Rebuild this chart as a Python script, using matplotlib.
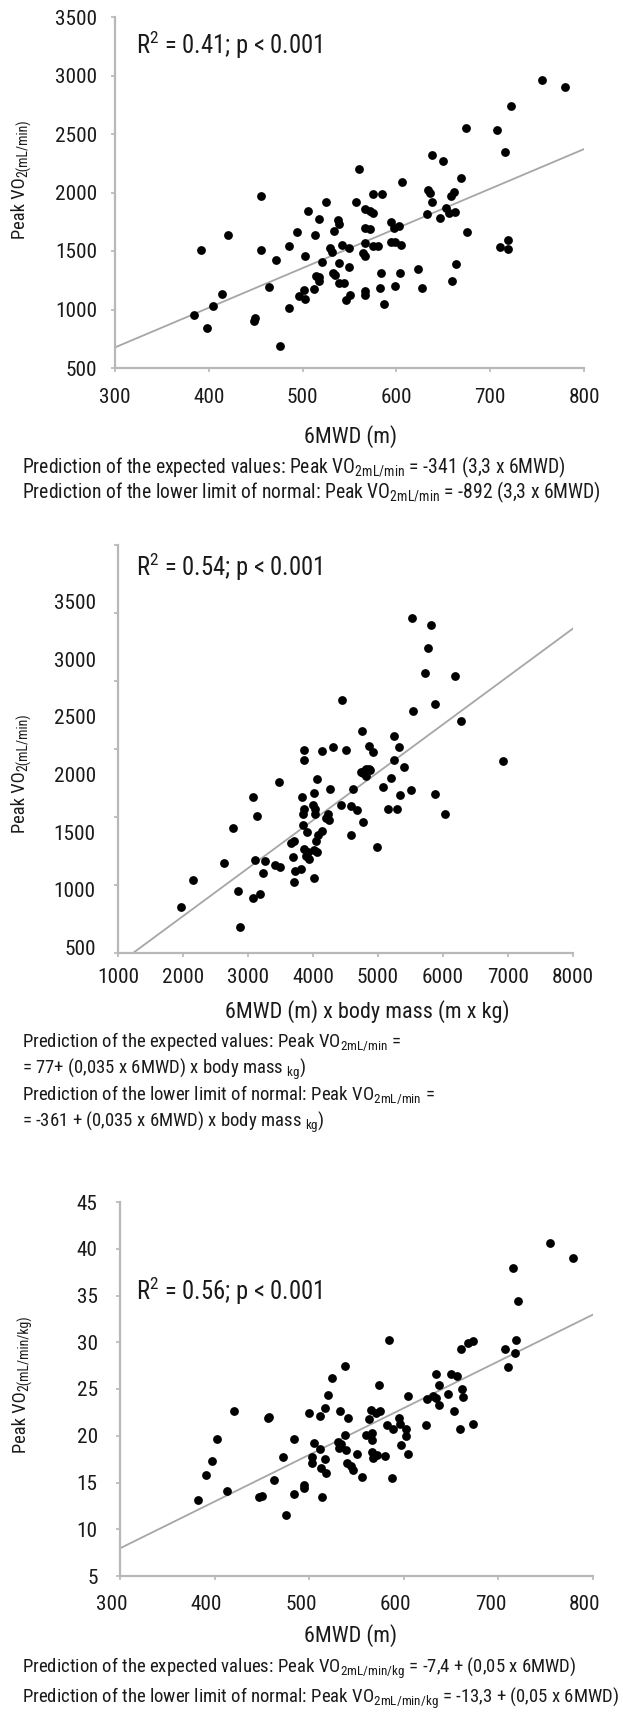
import numpy as np
import matplotlib
matplotlib.use("Agg")
import matplotlib.pyplot as plt
import matplotlib.transforms as mtransforms
from matplotlib import font_manager

# ---- fonts: prefer a narrow sans, the reference uses a condensed face ----
ttf = font_manager.fontManager.ttflist
names = {f.name for f in ttf}
main_font, stretch = "Liberation Sans", "normal"
for cand in ["Roboto Condensed", "Liberation Sans Narrow", "DejaVu Sans Condensed"]:
    if cand in names:
        main_font = cand
        break
else:
    if any(f.name == "DejaVu Sans" and f.stretch == "condensed" for f in ttf):
        main_font, stretch = "DejaVu Sans", "condensed"
plt.rcParams["font.family"] = [main_font, "DejaVu Sans"]
plt.rcParams["font.stretch"] = stretch
plt.rcParams["mathtext.default"] = "regular"

# ---- data: panel 1 (6MWD vs peak VO2, mL/min) ----
p1_mwd = [384, 392, 398, 404, 414, 421, 448, 449, 456, 456, 464, 472, 476, 486, 486,
          494, 496, 501, 503, 503, 506, 512, 513, 514, 518, 518, 518, 521, 525, 529,
          531, 533, 532, 535, 538, 539, 539, 539, 544, 542, 546, 549, 549, 551, 557,
          560, 564, 566, 566, 567, 566, 566, 572, 567, 572, 575, 575, 575, 580, 582,
          585, 584, 587, 594, 597, 594, 599, 598, 603, 604, 605, 606, 623, 627, 633,
          634, 636, 638, 638, 650, 647, 653, 656, 658, 661, 662, 659, 664, 669, 674,
          675, 707, 710, 716, 719, 719, 722, 755, 780]
p1_vo2 = [955, 1510, 840, 1030, 1135, 1640, 905, 930, 1970, 1505, 1195, 1425, 685, 1010, 1545,
          1665, 1115, 1165, 1090, 1460, 1840, 1175, 1640, 1290, 1275, 1240, 1770, 1410, 1915, 1525,
          1490, 1670, 1315, 1295, 1765, 1730, 1395, 1225, 1230, 1550, 1085, 1360, 1525, 1125, 1915,
          2200, 1480, 1460, 1160, 1120, 1570, 1700, 1685, 1855, 1845, 1825, 1990, 1540, 1545, 1180,
          1990, 1315, 1050, 1750, 1695, 1580, 1580, 1205, 1715, 1315, 1550, 2090, 1350, 1180, 1815,
          2020, 2000, 2320, 1915, 2270, 1785, 1865, 1825, 1970, 2005, 1830, 1245, 1385, 2120, 2555,
          1665, 2535, 1530, 2345, 1595, 1515, 2740, 2960, 2905]
p1_fit = (-341, 3.39)

# ---- data: panel 2 (6MWD x body mass vs peak VO2, mL/min) ----
p2_work = [1965, 2150, 2625, 2765, 2840, 2880, 3070, 3075, 3105, 3140, 3185, 3230, 3265, 3415,
           3490, 3480, 3665, 3705, 3690, 3700, 3720, 3810, 3830, 3840, 3860, 3860, 3865, 3840,
           3860, 3890, 3920, 3900, 3940, 4010, 4000, 4025, 4025, 4010, 4060, 4010, 4040, 4075,
           4055, 4135, 4145, 4225, 4245, 4200, 4255, 4300, 4425, 4450, 4510, 4590, 4590, 4620,
           4670, 4755, 4775, 4745, 4790, 4820, 4860, 4880, 4810, 4770, 4865, 4930, 5080, 4990,
           5150, 5205, 5250, 5250, 5295, 5325, 5335, 5405, 5510, 5525, 5540, 5720, 5770, 5815,
           5875, 5875, 6025, 6180, 6270, 6925]
p2_vo2 = [841, 1040, 1165, 1420, 955, 690, 905, 1645, 1185, 1510, 935, 1085, 1180, 1145,
          1130, 1755, 1310, 1325, 1205, 1020, 1100, 1120, 1645, 1525, 1560, 1995, 1920, 1440,
          1265, 1210, 1240, 1390, 1190, 1675, 1590, 1560, 1525, 1255, 1240, 1050, 1325, 1365,
          1780, 1395, 1985, 1525, 1475, 1490, 1705, 2015, 1585, 2360, 1990, 1365, 1580, 1705,
          1555, 2130, 1460, 1830, 1840, 1850, 1850, 1845, 1800, 1820, 2020, 1980, 1720, 1280,
          1560, 1785, 2095, 1920, 1560, 2015, 1665, 1865, 1695, 2965, 2280, 2560, 2745, 2915,
          2330, 1670, 1525, 2540, 2205, 1915]
p2_fit = (66, 0.3525)
p2_label_vals = [500, 1000, 1500, 2000, 2500, 3000, 3500]

# ---- data: panel 3 (6MWD vs peak VO2, mL/min/kg) ----
p3_mwd = [382, 391, 397, 403, 413, 421, 447, 450, 456, 458, 463, 472, 476, 484, 484,
          494, 494, 500, 503, 503, 505, 511, 511, 512, 514, 517, 517, 518, 520, 524,
          530, 532, 534, 533, 538, 538, 539, 540, 544, 546, 541, 550, 556, 560, 563,
          565, 566, 566, 566, 567, 571, 575, 572, 574, 580, 582, 584, 587, 589, 595,
          596, 597, 602, 602, 604, 604, 623, 625, 631, 634, 634, 637, 637, 647, 650,
          656, 653, 659, 660, 661, 663, 668, 673, 673, 707, 710, 715, 718, 719, 721,
          755, 779]
p3_vo2 = [13.1, 15.8, 17.3, 19.7, 14.1, 22.6, 13.4, 13.6, 21.9, 22.0, 15.3, 17.7, 11.5, 19.6, 13.8,
          14.4, 14.7, 22.4, 17.7, 17.1, 19.2, 22.1, 18.6, 16.6, 13.4, 23.0, 17.5, 16.0, 24.4, 26.2,
          19.3, 18.7, 19.1, 22.6, 27.5, 20.1, 18.5, 17.1, 16.8, 16.3, 21.9, 18.0, 15.6, 20.1, 21.8,
          22.8, 20.3, 19.5, 18.3, 17.6, 22.4, 22.7, 17.9, 25.4, 17.8, 21.1, 30.2, 15.5, 20.7, 21.9,
          21.3, 19.0, 20.7, 20.0, 24.2, 18.1, 21.1, 23.9, 24.3, 24.0, 26.6, 25.4, 23.3, 24.5, 26.6,
          26.4, 22.7, 20.7, 29.3, 25.0, 24.1, 29.9, 30.1, 21.3, 29.3, 27.3, 37.9, 28.8, 30.2, 34.4,
          40.6, 39.0]
p3_fit = (-7.04, 0.05)

# ---- figure ----
W, H = 623, 1712
fig = plt.figure(figsize=(W / 100, H / 100), dpi=100)
renderer = fig.canvas.get_renderer()

SPINE = "#b8b8b8"
LINE = "#a6a6a6"
TXT = "#1a1a1a"


def fit_fs(s, target_w):
    # font size that makes s span target_w pixels
    t = fig.text(0, 0, s, fontsize=20)
    w = t.get_window_extent(renderer).width
    t.remove()
    return 20 * target_w / w


TICK_FS = fit_fs("3500", 42)
LABEL_FS = fit_fs("6MWD (m)", 93)
YMAIN_FS = fit_fs("Peak VO", 62)
YSUB_FS = fit_fs("2(mL/min)", 58)
R2_FS = fit_fs(r"R$^{2}$ = 0.41; p < 0.001", 186)
NOTE1_FS = fit_fs(r"Prediction of the lower limit of normal: Peak VO$_{2mL/min}$ = -892 (3,3 x 6MWD)", 578)
NOTE2_FS = fit_fs(r"Prediction of the lower limit of normal: Peak VO$_{2mL/min}$ =", 413)
NOTE3_FS = fit_fs(r"Prediction of the lower limit of normal: Peak VO$_{2mL/min/kg}$ = -13,3 + (0,05 x 6MWD)", 596)


def add_ax(left, right, top, bottom):
    return fig.add_axes([left / W, 1 - bottom / H, (right - left) / W, (bottom - top) / H])


def style(ax, xpad, ypad):
    for s in ["top", "right"]:
        ax.spines[s].set_visible(False)
    for s in ["left", "bottom"]:
        ax.spines[s].set_color(SPINE)
        ax.spines[s].set_linewidth(1.6)
    ax.tick_params(direction="out", length=3, width=1.2, color=SPINE,
                   labelsize=TICK_FS, labelcolor=TXT)
    ax.tick_params(axis="x", pad=xpad)
    ax.tick_params(axis="y", pad=ypad)


def ftext(x, y, s, fs, **kw):
    return fig.text(x / W, 1 - y / H, s, va="center", fontsize=fs, color=TXT, **kw)


def ylab(xc, yc, main, sub):
    # vertical label with a small subscript, centred on (xc, yc) in pixels
    kw = dict(rotation=90, rotation_mode="anchor", ha="left", va="baseline", color=TXT)
    t1 = fig.text(0, 0, main, fontsize=YMAIN_FS, **kw)
    t2 = fig.text(0, 0, sub, fontsize=YSUB_FS, **kw)
    l1 = t1.get_window_extent(renderer).height
    l2 = t2.get_window_extent(renderer).height
    px = YMAIN_FS * 100 / 72
    xb = xc + 0.36 * px
    y0 = yc + (l1 + l2) / 2
    t1.set_position((xb / W, 1 - y0 / H))
    t2.set_position(((xb + 0.14 * px) / W, 1 - (y0 - l1) / H))


# panel 1
ax1 = add_ax(115, 584, 17, 368)
ax1.scatter(p1_mwd, p1_vo2, s=40, color="black", linewidths=0, zorder=3)
xs = np.array([300, 800])
ax1.plot(xs, p1_fit[0] + p1_fit[1] * xs, color=LINE, lw=1.3, zorder=2)
ax1.set_xlim(300, 800)
ax1.set_ylim(500, 3500)
ax1.set_xticks(range(300, 801, 100))
ax1.set_yticks(range(500, 3501, 500))
style(ax1, 11.5, 10)
ax1.text(322, 3258, r"R$^{2}$ = 0.41; p < 0.001", fontsize=R2_FS, color=TXT, va="center")
ylab(18.5, 179, "Peak VO", "2(mL/min)")
ftext(350, 437, "6MWD (m)", LABEL_FS, ha="center")
ftext(22, 467, r"Prediction of the expected values: Peak VO$_{2mL/min}$ = -341 (3,3 x 6MWD)", NOTE1_FS)
ftext(22, 492, r"Prediction of the lower limit of normal: Peak VO$_{2mL/min}$ = -892 (3,3 x 6MWD)", NOTE1_FS)

# panel 2
ax2 = add_ax(118, 573, 545, 953)
ax2.scatter(p2_work, p2_vo2, s=40, color="black", linewidths=0, zorder=3)
xs = np.array([1000, 8000])
ax2.plot(xs, p2_fit[0] + p2_fit[1] * xs, color=LINE, lw=1.3, zorder=2)
ax2.set_xlim(1000, 8000)
ax2.set_ylim(500, 3500)
ax2.set_xticks(range(1000, 8001, 1000))
ax2.set_yticks(range(500, 3501, 500))
style(ax2, 8, 12)
ax2.tick_params(axis="y", labelleft=False)
# the printed y labels sit on a compressed scale relative to the tick marks
sec = ax2.secondary_yaxis("left", functions=(lambda d: 500 + (d - 544) / 0.8457,
                                             lambda v: 544 + (v - 500) * 0.8457))
sec.set_yticks(p2_label_vals)
sec.spines["left"].set_visible(False)
sec.tick_params(length=0, pad=16, labelsize=TICK_FS, labelcolor=TXT)
ax2.text(1277, 3340, r"R$^{2}$ = 0.54; p < 0.001", fontsize=R2_FS, color=TXT, va="center")
ylab(18.5, 773, "Peak VO", "2(mL/min)")
ftext(367, 1012, "6MWD (m) x body mass (m x kg)", LABEL_FS, ha="center")
ftext(22, 1042, r"Prediction of the expected values: Peak VO$_{2mL/min}$ =", NOTE2_FS)
ftext(22, 1069, r"= 77+ (0,035 x 6MWD) x body mass $_{kg}$)", NOTE2_FS)
ftext(22, 1095, r"Prediction of the lower limit of normal: Peak VO$_{2mL/min}$ =", NOTE2_FS)
ftext(22, 1122, r"= -361 + (0,035 x 6MWD) x body mass $_{kg}$)", NOTE2_FS)

# panel 3
ax3 = add_ax(120, 593, 1202, 1576)
ax3.scatter(p3_mwd, p3_vo2, s=40, color="black", linewidths=0, zorder=3)
xs = np.array([300, 800])
ax3.plot(xs, p3_fit[0] + p3_fit[1] * xs, color=LINE, lw=1.3, zorder=2)
ax3.set_xlim(300, 800)
ax3.set_ylim(5, 45)
ax3.set_xticks(range(300, 801, 100))
ax3.set_yticks(range(5, 46, 5))
style(ax3, 11, 13)
shift = mtransforms.ScaledTranslation(-0.08, 0, fig.dpi_scale_trans)
for lab in ax3.get_xticklabels():
    lab.set_transform(lab.get_transform() + shift)
ax3.text(317, 35.5, r"R$^{2}$ = 0.56; p < 0.001", fontsize=R2_FS, color=TXT, va="center")
ylab(19.5, 1384, "Peak VO", "2(mL/min/kg)")
ftext(351, 1636, "6MWD (m)", LABEL_FS, ha="center")
ftext(22, 1668, r"Prediction of the expected values: Peak VO$_{2mL/min/kg}$ = -7,4 + (0,05 x 6MWD)", NOTE3_FS)
ftext(22, 1698, r"Prediction of the lower limit of normal: Peak VO$_{2mL/min/kg}$ = -13,3 + (0,05 x 6MWD)", NOTE3_FS)

fig.savefig("out.png", dpi=100, facecolor="white")
